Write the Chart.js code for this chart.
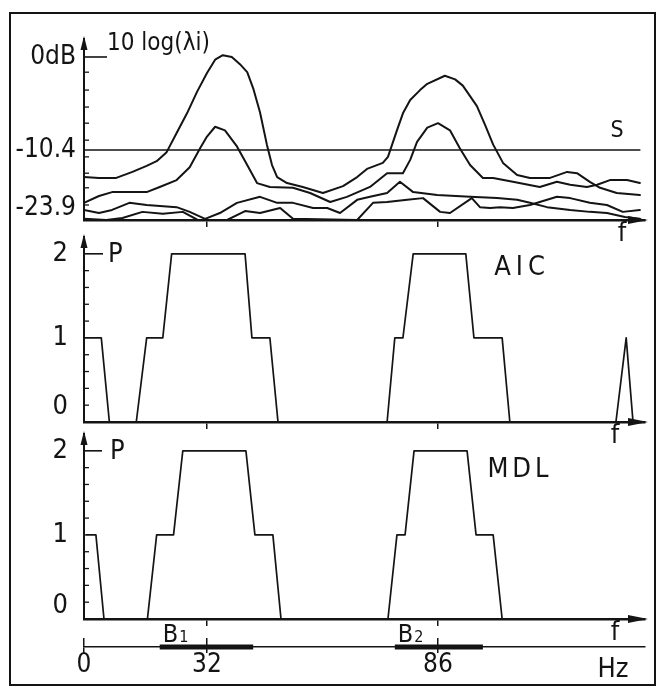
<!DOCTYPE html>
<html>
<head>
<meta charset="utf-8">
<script src="https://cdn.jsdelivr.net/npm/chart.js@4.4.1/dist/chart.umd.min.js"></script>
<style>
  html, body { margin: 0; padding: 0; background: #fff; }
  #wrap { position: relative; width: 660px; height: 698px; overflow: hidden; background: #fff; }
  #wrap canvas { position: absolute; left: 0; top: 0; }
  #frame { position: absolute; left: 9px; top: 12px; width: 643px; height: 670px; border: 2px solid #141414; }
</style>
</head>
<body>
<div id="wrap">
  <div id="frame"></div>
  <canvas id="cTop" width="660" height="698"></canvas>
  <canvas id="cAic" width="660" height="698"></canvas>
  <canvas id="cMdl" width="660" height="698"></canvas>
  <canvas id="cBand" width="660" height="698"></canvas>
</div>
<script>
// ---------------- data ----------------
const freqTicks = [0, 32, 86];
const freqTickLabels = ['0', '32', '86'];
const freqMax = 134.4;

const dbTicks = [0, -10.4, -23.9];
const dbTickLabels = ['0dB', '-10.4', '-23.9'];
const dbMinorTicks = [-1.7, -3.7, -5.6, -7.4, -9.3, -12.0, -15.8, -19.2, -23.2];

const orderTicks = [0, 1, 2];
const orderTickLabels = ['0', '1', '2'];
const orderMinorTicks = [0.2, 0.4, 0.6, 0.8, 1.2, 1.4, 1.6, 1.8];

const thresholdS = -10.4;
const thresholdEnd = 133.2;

const lambda1Freq = [0,3.9,8.4,12.6,16.3,18.9,21.5,24.1,26.8,29.4,32,33.9,35.7,37.8,39.7,41.4,42.8,44.4,46.0,47.2,48.4,50.7,54.4,59.1,63.8,67.1,69.4,73.1,74.3,76.4,77.8,79.5,81.8,83.5,87.6,90.0,91.8,95.1,97.0,98.9,101.2,104.5,107.5,112.2,116.2,118.5,121.5,123.9,127.8,133.2];
const lambda1Db = [-16.7,-16.9,-16.9,-15.5,-14.1,-13.0,-10.9,-8.5,-6.3,-3.9,-1.8,-0.3,0.2,0,-0.8,-1.7,-3.5,-6.2,-9.8,-13.9,-16.7,-18.1,-19.0,-20.4,-18.8,-16.7,-14.8,-13.4,-12.0,-8.2,-6.3,-4.8,-3.7,-3.0,-2.1,-2.5,-3.2,-5.5,-7.6,-9.8,-13.4,-16.2,-16.9,-16.9,-15.5,-15.8,-17.8,-19.2,-20.4,-20.9];

const lambda2Freq = [0,3.9,7.3,11.8,16.3,19.7,24.1,27.5,30.2,32,33.9,36.2,39.0,41.4,43.7,46.7,52.1,56.1,60.8,64.7,70.1,74.1,77.8,79.5,81.1,83.5,86.0,88.8,91.1,93.5,96.5,98.9,103.5,109.8,113.8,116.9,120.8,123.2,126.2,130.2,133.2];
const lambda2Db = [-22.7,-21.1,-20.2,-20.2,-20.2,-19.0,-17.4,-14.4,-10.2,-8.9,-7.8,-8.2,-10.0,-13.9,-18.1,-19.0,-19.2,-20.4,-22.5,-21.3,-19.0,-15.8,-15.8,-12.7,-9.5,-7.9,-7.4,-8.2,-10.2,-13.9,-16.9,-16.9,-17.8,-19.0,-17.8,-18.5,-19.0,-18.5,-17.4,-17.4,-18.1];

const lambda3Freq = [0,3.9,7.3,11.8,16.3,24.1,27.5,31.5,35.0,39.0,44.4,48.4,52.1,56.8,60.1,63.1,67.1,70.1,74.1,77.1,80.2,85.8,93.5,99.8,104.5,107.5,111.5,116.9,121.5,125.5,129.7,133.2];
const lambda3Db = [-24.4,-25.2,-24.4,-22.7,-23.2,-23.7,-24.9,-26.7,-25.2,-22.7,-21.3,-22.7,-22.7,-23.9,-23.9,-25.2,-22.0,-21.3,-20.4,-17.8,-20.2,-20.9,-21.3,-21.6,-22.0,-22.7,-23.7,-24.4,-24.9,-25.2,-26.2,-26.7];

const lambda4Freq = [0,5.8,10.0,15.2,20.5,25.7,29.6,36.7,40.9,44.4,49.1,52.1,67.1,70.8,74.1,78.8,82.5,86.5,88.8,93.9,95.8,98.2,100.5,103.5,107.5,113.8,116.9,121.5,125.5,129.2,133.2];
const lambda4Db = [-26.7,-27.0,-26.5,-24.9,-25.4,-24.9,-27.0,-27.0,-24.7,-25.2,-23.9,-26.7,-27.0,-22.7,-22.5,-22.0,-21.6,-24.9,-25.2,-21.6,-23.7,-23.9,-23.7,-23.9,-23.2,-21.3,-21.6,-22.7,-23.2,-24.9,-24.4];

const aicFreq = [0,4.5,6.6,13.6,16.3,20.5,22.8,40.9,42.5,46.7,48.6,74.1,75.9,77.8,80.2,92.5,94.4,101.0,102.8,127.6,130.0,131.6];
const aicOrder = [1,1,0,0,1,1,2,2,1,1,0,0,1,1,2,2,1,1,0,0,1,0];

const mdlFreq = [0.5,3.1,5.2,16.5,18.9,23.3,25.7,41.1,43.2,47.4,49.3,74.3,76.4,78.3,80.4,92.8,94.9,98.9,101.0];
const mdlOrder = [1,1,0,0,1,1,2,2,1,1,0,0,1,1,2,2,1,1,0];

const bandNames = ['B1', 'B2'];
const bandStart = [19.7, 75.9];
const bandEnd = [42.8, 96.5];

// ---------------- styling / scale config ----------------
const INK = '#141414';
const FONT = '"DejaVu Sans Condensed", "Liberation Sans Narrow", "Roboto Condensed", Roboto, "DejaVu Sans", sans-serif';
Chart.defaults.font.family = FONT;
Chart.defaults.color = INK;

// The original drawing uses non-uniform (schematic) axes: piecewise-linear scale.
const SCALE_ANCHORS = {
  freq: [[0, 0], [32, 0.21925], [86, 0.63102], [134.4, 1]],
  db:   [[-27, 0], [-23.9, 0.0663], [-10.4, 0.3867], [0, 0.9006], [2, 1]]
};

class PiecewiseScale extends Chart.LinearScale {
  _anch() { return SCALE_ANCHORS[this.options.anchorSet]; }
  _frac(v) {
    const a = this._anch();
    let i = 0;
    while (i < a.length - 2 && v > a[i + 1][0]) i++;
    const [v0, f0] = a[i], [v1, f1] = a[i + 1];
    return f0 + (v - v0) * (f1 - f0) / (v1 - v0);
  }
  getPixelForValue(value) {
    const t = this._frac(value);
    return this.isHorizontal() ? this.left + t * this.width : this.bottom - t * this.height;
  }
  getValueForPixel(pixel) {
    const t = this.isHorizontal() ? (pixel - this.left) / this.width : (this.bottom - pixel) / this.height;
    const a = this._anch();
    let i = 0;
    while (i < a.length - 2 && t > a[i + 1][1]) i++;
    const [v0, f0] = a[i], [v1, f1] = a[i + 1];
    return v0 + (t - f0) * (v1 - v0) / (f1 - f0);
  }
}
PiecewiseScale.id = 'piecewise';
PiecewiseScale.defaults = Chart.LinearScale.defaults;
Chart.register(PiecewiseScale);

const zip = (xs, ys) => xs.map((x, i) => ({ x, y: ys[i] }));

function makeDecor(cfg) {
  return {
    id: 'decor',
    afterDraw(chart) {
      const { ctx, chartArea: ca } = chart;
      const xs = chart.scales.x, ys = chart.scales.y;
      ctx.save();
      ctx.fillStyle = INK; ctx.strokeStyle = INK;
      if (cfg.minor) {
        ctx.lineWidth = 1.3;
        for (const v of cfg.minor) {
          const y = ys.getPixelForValue(v);
          ctx.beginPath(); ctx.moveTo(ca.left, y); ctx.lineTo(ca.left + 5, y); ctx.stroke();
        }
      }
      if (cfg.arrowX) {
        const y = ca.bottom, x = ca.right + 3;
        ctx.beginPath(); ctx.moveTo(x, y); ctx.lineTo(x - 20, y - 4); ctx.lineTo(x - 20, y + 4); ctx.closePath(); ctx.fill();
      }
      if (cfg.arrowY) {
        const x = ca.left, y = ca.top - 3;
        ctx.beginPath(); ctx.moveTo(x, y); ctx.lineTo(x - 3.5, y + 14); ctx.lineTo(x + 3.5, y + 14); ctx.closePath(); ctx.fill();
      }
      if (cfg.leader) {
        const y = ys.getPixelForValue(cfg.leader.value);
        ctx.lineWidth = 1.6;
        ctx.beginPath(); ctx.moveTo(ca.left, y); ctx.lineTo(ca.left + cfg.leader.length, y); ctx.stroke();
      }
      for (const t of (cfg.texts || [])) {
        ctx.font = `${t.size}px ${FONT}`;
        ctx.textAlign = t.align || 'center';
        ctx.textBaseline = t.baseline || 'middle';
        ctx.letterSpacing = (t.spacing || 0) + 'px';
        ctx.fillText(t.text, t.x, t.y);
      }
      ctx.letterSpacing = '0px';
      if (cfg.bands) {
        bandNames.forEach((name, i) => {
          const x = xs.getPixelForValue(bandStart[i]) + 3;
          ctx.textAlign = 'left'; ctx.textBaseline = 'alphabetic';
          ctx.font = `25px ${FONT}`;
          const main = name.slice(0, 1), sub = name.slice(1);
          ctx.fillText(main, x, 642);
          const w = ctx.measureText(main).width;
          ctx.font = `16px ${FONT}`;
          ctx.fillText(sub, x + w + 1, 642);
        });
      }
      ctx.restore();
    }
  };
}

function freqAxis() {
  return {
    type: 'piecewise', anchorSet: 'freq', min: 0, max: freqMax,
    afterBuildTicks: s => { s.ticks = freqTicks.filter(v => v > 0).map(v => ({ value: v })); },
    afterFit: s => { s.height = 10; },
    ticks: { display: false, autoSkip: false },
    grid: { display: true, drawOnChartArea: false, drawTicks: true, tickLength: 7, color: INK, lineWidth: 1.5 },
    border: { display: true, color: INK, width: 2.5 }
  };
}

function orderAxis(zeroLineHeight) {
  return {
    type: 'linear', min: 0, max: 2.2,
    afterBuildTicks: s => { s.ticks = orderTicks.map(v => ({ value: v })); },
    afterFit: s => { s.width = 74; },
    ticks: {
      autoSkip: false, color: INK, padding: 16,
      callback: v => { const k = orderTicks.indexOf(v); return v === 0 ? [orderTickLabels[k], ''] : orderTickLabels[k]; },
      font: c => ({ family: FONT, size: 27, lineHeight: (c.tick && c.tick.value === 0) ? zeroLineHeight : 1.2 })
    },
    grid: { display: true, drawOnChartArea: false, drawTicks: false },
    border: { display: true, color: INK, width: 2 }
  };
}

const common = {
  responsive: false, animation: false, devicePixelRatio: 1, events: [],
  plugins: { legend: { display: false }, tooltip: { enabled: false }, title: { display: false } },
  elements: { point: { radius: 0 }, line: { borderColor: INK, tension: 0, fill: false, borderJoinStyle: 'round', borderCapStyle: 'round' } }
};

// ---------------- top panel: eigenvalues ----------------
new Chart(document.getElementById('cTop'), {
  type: 'line',
  data: {
    datasets: [
      { label: 'λ1', data: zip(lambda1Freq, lambda1Db), borderWidth: 2 },
      { label: 'λ2', data: zip(lambda2Freq, lambda2Db), borderWidth: 2 },
      { label: 'λ3', data: zip(lambda3Freq, lambda3Db), borderWidth: 2 },
      { label: 'λ4', data: zip(lambda4Freq, lambda4Db), borderWidth: 2 },
      { label: 'S', data: [{ x: 0, y: thresholdS }, { x: thresholdEnd, y: thresholdS }], borderWidth: 1.6 }
    ]
  },
  options: Object.assign({}, common, {
    layout: { padding: { left: 10, right: 15, top: 39, bottom: 698 - 220 - 10 } },
    scales: {
      x: freqAxis(),
      y: {
        type: 'piecewise', anchorSet: 'db', min: -27, max: 2,
        afterBuildTicks: s => { s.ticks = dbTicks.map(v => ({ value: v })); },
        afterFit: s => { s.width = 74; },
        ticks: { autoSkip: false, color: INK, padding: 8, font: { family: FONT, size: 26 },
                 callback: v => dbTickLabels[dbTicks.indexOf(v)] },
        grid: { display: true, drawOnChartArea: false, drawTicks: false },
        border: { display: true, color: INK, width: 2 }
      }
    }
  }),
  plugins: [makeDecor({
    minor: dbMinorTicks, arrowX: true, arrowY: true,
    leader: { value: 0, length: 23 },
    texts: [
      { text: '10 log(λi)', x: 107, y: 50, size: 24, align: 'left', baseline: 'alphabetic' },
      { text: 'S', x: 617, y: 131, size: 23 },
      { text: 'f', x: 622, y: 234, size: 27 }
    ]
  })]
});

// ---------------- middle panel: AIC ----------------
new Chart(document.getElementById('cAic'), {
  type: 'line',
  data: { datasets: [{ label: 'AIC', data: zip(aicFreq, aicOrder), borderWidth: 1.7 }] },
  options: Object.assign({}, common, {
    layout: { padding: { left: 10, right: 15, top: 237, bottom: 698 - 422 - 10 } },
    scales: { x: freqAxis(), y: orderAxis(1.1) }
  }),
  plugins: [makeDecor({
    minor: orderMinorTicks, arrowX: true, arrowY: true,
    leader: { value: 2, length: 19 },
    texts: [
      { text: 'P', x: 108, y: 255, size: 27, align: 'left' },
      { text: 'AIC', x: 522, y: 268, size: 27, spacing: 5 },
      { text: 'f', x: 615, y: 436, size: 27 }
    ]
  })]
});

// ---------------- lower panel: MDL ----------------
new Chart(document.getElementById('cMdl'), {
  type: 'line',
  data: { datasets: [{ label: 'MDL', data: zip(mdlFreq, mdlOrder), borderWidth: 1.7 }] },
  options: Object.assign({}, common, {
    layout: { padding: { left: 10, right: 15, top: 434, bottom: 698 - 619 - 10 } },
    scales: { x: freqAxis(), y: orderAxis(0.95) }
  }),
  plugins: [makeDecor({
    minor: orderMinorTicks, arrowX: true, arrowY: true,
    leader: { value: 2, length: 18 },
    texts: [
      { text: 'P', x: 110, y: 452, size: 27, align: 'left' },
      { text: 'MDL', x: 520, y: 470, size: 27, spacing: 4 },
      { text: 'f', x: 615, y: 633, size: 27 }
    ]
  })]
});

// ---------------- frequency axis with bands ----------------
new Chart(document.getElementById('cBand'), {
  type: 'line',
  data: {
    datasets: bandNames.map((n, i) => ({
      label: n, data: [{ x: bandStart[i], y: 0 }, { x: bandEnd[i], y: 0 }],
      borderWidth: 5, borderCapStyle: 'butt', clip: false
    }))
  },
  options: Object.assign({}, common, {
    layout: { padding: { left: 84, right: 15, top: 638, bottom: 698 - 647 - 40 } },
    scales: {
      x: {
        type: 'piecewise', anchorSet: 'freq', min: 0, max: freqMax,
        afterBuildTicks: s => { s.ticks = freqTicks.map(v => ({ value: v })); },
        afterFit: s => { s.height = 40; },
        ticks: { autoSkip: false, maxRotation: 0, color: INK, padding: -1,
                 font: { family: FONT, size: 26, lineHeight: 1 },
                 callback: v => freqTickLabels[freqTicks.indexOf(v)] },
        grid: { display: true, drawOnChartArea: true, drawTicks: true, tickLength: 6, color: INK, lineWidth: 1.5 },
        border: { display: true, color: INK, width: 1.6 }
      },
      y: { display: false, min: 0, max: 1 }
    }
  }),
  plugins: [makeDecor({
    bands: true,
    texts: [{ text: 'Hz', x: 613, y: 670, size: 27 }]
  })]
});
</script>
</body>
</html>
